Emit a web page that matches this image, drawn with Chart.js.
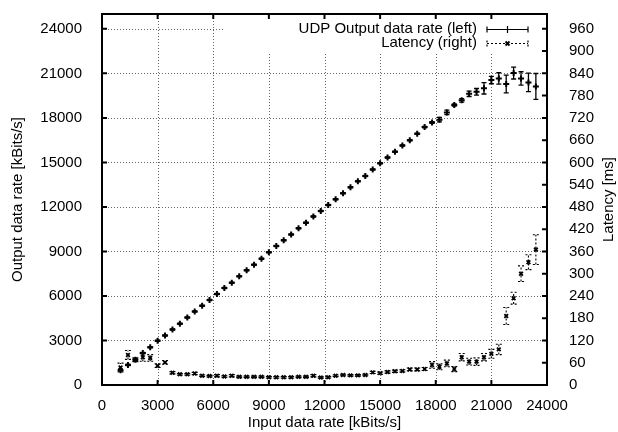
<!DOCTYPE html>
<html>
<head>
<meta charset="utf-8">
<script src="https://cdn.jsdelivr.net/npm/chart.js@4"></script>
<style>
  html, body { margin: 0; padding: 0; background: #fff; }
</style>
</head>
<body>
<canvas id="rateChart" width="618" height="432"></canvas>
<script>
// input data rate [kBits/s] (x)
const inputRates = [1000, 1400, 1800, 2200, 2600, 3000, 3400, 3800, 4200, 4600,
  5000, 5400, 5800, 6200, 6600, 7000, 7400, 7800, 8200, 8600,
  9000, 9400, 9800, 10200, 10600, 11000, 11400, 11800, 12200, 12600,
  13000, 13400, 13800, 14200, 14600, 15000, 15400, 15800, 16200, 16600,
  17000, 17400, 17800, 18200, 18600, 19000, 19400, 19800, 20200, 20600,
  21000, 21400, 21800, 22200, 22600, 23000, 23400];

// UDP output data rate [kBits/s] (left axis)
const outputRates = [1000, 1350, 1700, 2150, 2550, 2980, 3330, 3740, 4120, 4550,
  4950, 5340, 5720, 6130, 6530, 6890, 7320, 7730, 8110, 8510,
  8940, 9370, 9750, 10140, 10560, 10940, 11350, 11730, 12135, 12520,
  12920, 13330, 13730, 14090, 14520, 14950, 15330, 15720, 16140, 16500,
  16930, 17380, 17690, 17880, 18370, 18870, 19180, 19620, 19760, 19990,
  20550, 20660, 20280, 21020, 20660, 20390, 20120];
const outputErr = [60, 50, 50, 50, 40, 40, 40, 40, 40, 40,
  40, 40, 40, 40, 40, 40, 40, 40, 40, 40,
  40, 40, 40, 40, 40, 40, 40, 40, 40, 40,
  40, 40, 40, 40, 40, 40, 40, 40, 40, 40,
  40, 50, 60, 150, 150, 80, 120, 180, 220, 380,
  250, 380, 600, 400, 450, 620, 870];

// latency [ms] (right axis)
const latency = [47, 81, 68, 75, 73, 52, 61, 33, 29, 29,
  31, 25, 24, 25, 23, 25, 22, 22, 22, 22,
  21, 21, 21, 21, 22, 22, 25, 20, 21, 25,
  27, 26, 26, 27, 34, 32, 35, 37, 38, 42,
  42, 43, 54, 49, 58, 43, 75, 63, 63, 75,
  84, 96, 186, 234, 300, 331, 365];
const latencyErr = [12, 12, 5, 11, 9, 5, 5, 3, 2, 2,
  3, 2, 2, 3, 2, 3, 2, 2, 2, 2,
  2, 2, 2, 2, 2, 2, 3, 2, 2, 2,
  2, 2, 2, 2, 3, 3, 3, 3, 3, 4,
  4, 4, 9, 8, 9, 7, 10, 9, 10, 10,
  12, 14, 23, 16, 21, 20, 40];

// tick labels
const xTicks = [0, 3000, 6000, 9000, 12000, 15000, 18000, 21000, 24000];
const leftTicks = [0, 3000, 6000, 9000, 12000, 15000, 18000, 21000, 24000];
const rightTicks = [0, 60, 120, 180, 240, 300, 360, 420, 480, 540, 600,
  660, 720, 780, 840, 900, 960];

const FONT = '"Liberation Sans", Arial, Helvetica, sans-serif';
const tickFont = { family: FONT, size: 15 };

function fixTicks(list) {
  return function (s) { s.ticks = list.map(v => ({ value: v })); };
}

// grid, error bars, frame, key and axis titles drawn gnuplot style
const gnuplotLook = {
  id: "gnuplotLook",
  beforeDatasetsDraw(chart) {
    const { ctx, chartArea: a, scales } = chart;
    ctx.save();
    ctx.strokeStyle = "rgba(0,0,0,0.6)";
    ctx.lineWidth = 1;
    ctx.setLineDash([1, 2]);
    scales.x.ticks.forEach(t => {
      if (t.value <= 0 || t.value >= 24000) return;
      const px = Math.round(scales.x.getPixelForValue(t.value)) + 0.5;
      ctx.beginPath(); ctx.moveTo(px, a.bottom); ctx.lineTo(px, a.top); ctx.stroke();
    });
    scales.y.ticks.forEach(t => {
      if (t.value <= 0) return;
      const py = Math.round(scales.y.getPixelForValue(t.value)) + 0.5;
      ctx.beginPath(); ctx.moveTo(a.left, py); ctx.lineTo(a.right, py); ctx.stroke();
    });
    // key area is blanked
    ctx.setLineDash([]);
    ctx.fillStyle = "#fff";
    ctx.fillRect(225, a.top, a.right - 225, 52 - a.top);

    // error bars, UDP (solid)
    ctx.strokeStyle = "#000";
    ctx.lineWidth = 1.3;
    inputRates.forEach((x, i) => {
      const px = scales.x.getPixelForValue(x);
      const lo = scales.y.getPixelForValue(outputRates[i] - outputErr[i]);
      const hi = scales.y.getPixelForValue(outputRates[i] + outputErr[i]);
      ctx.beginPath();
      ctx.moveTo(px, lo); ctx.lineTo(px, hi);
      ctx.moveTo(px - 2.5, lo); ctx.lineTo(px + 2.5, lo);
      ctx.moveTo(px - 2.5, hi); ctx.lineTo(px + 2.5, hi);
      ctx.stroke();
    });
    // error bars, latency (dashed)
    ctx.lineWidth = 1.1;
    ctx.setLineDash([2, 2]);
    inputRates.forEach((x, i) => {
      const px = scales.x.getPixelForValue(x);
      const lo = scales.y1.getPixelForValue(latency[i] - latencyErr[i]);
      const hi = scales.y1.getPixelForValue(latency[i] + latencyErr[i]);
      ctx.beginPath();
      ctx.moveTo(px, lo); ctx.lineTo(px, hi);
      ctx.moveTo(px - 3, lo); ctx.lineTo(px + 3, lo);
      ctx.moveTo(px - 3, hi); ctx.lineTo(px + 3, hi);
      ctx.stroke();
    });
    ctx.restore();
  },
  afterDraw(chart) {
    const { ctx, chartArea: a, scales } = chart;
    ctx.save();
    ctx.strokeStyle = "#000";
    ctx.lineWidth = 2;
    ctx.strokeRect(a.left, a.top, a.right - a.left, a.bottom - a.top);

    // inward tick marks
    ctx.beginPath();
    scales.x.ticks.forEach(t => {
      const px = scales.x.getPixelForValue(t.value);
      ctx.moveTo(px, a.bottom); ctx.lineTo(px, a.bottom - 5);
      ctx.moveTo(px, a.top); ctx.lineTo(px, a.top + 5);
    });
    scales.y.ticks.forEach(t => {
      const py = scales.y.getPixelForValue(t.value);
      ctx.moveTo(a.left, py); ctx.lineTo(a.left + 5, py);
    });
    scales.y1.ticks.forEach(t => {
      const py = scales.y1.getPixelForValue(t.value);
      ctx.moveTo(a.right, py); ctx.lineTo(a.right - 5, py);
    });
    ctx.stroke();

    // key
    ctx.fillStyle = "#000";
    ctx.font = "15px " + FONT;
    ctx.textAlign = "right";
    ctx.textBaseline = "middle";
    ctx.fillText("UDP Output data rate (left)", 477, 29);
    ctx.fillText("Latency (right)", 477, 43);
    ctx.lineWidth = 1.2;
    ctx.beginPath();
    ctx.moveTo(487, 29.5); ctx.lineTo(528, 29.5);
    ctx.moveTo(487, 26.5); ctx.lineTo(487, 32.5);
    ctx.moveTo(528, 26.5); ctx.lineTo(528, 32.5);
    ctx.moveTo(504, 29.5); ctx.lineTo(511, 29.5);
    ctx.moveTo(507.5, 26); ctx.lineTo(507.5, 33);
    ctx.stroke();
    ctx.setLineDash([2, 2]);
    ctx.beginPath();
    ctx.moveTo(487, 43.5); ctx.lineTo(528, 43.5);
    ctx.moveTo(487, 40.5); ctx.lineTo(487, 46.5);
    ctx.moveTo(528, 40.5); ctx.lineTo(528, 46.5);
    ctx.stroke();
    ctx.setLineDash([]);
    ctx.lineWidth = 1.8;
    ctx.beginPath();
    ctx.moveTo(505.5, 41.5); ctx.lineTo(509.5, 45.5);
    ctx.moveTo(509.5, 41.5); ctx.lineTo(505.5, 45.5);
    ctx.stroke();

    // axis titles
    ctx.textAlign = "center";
    const midY = (a.top + a.bottom) / 2;
    ctx.fillText("Input data rate [kBits/s]", (a.left + a.right) / 2, 423);
    ctx.translate(18, midY);
    ctx.rotate(-Math.PI / 2);
    ctx.fillText("Output data rate [kBits/s]", 0, 0);
    ctx.rotate(Math.PI / 2);
    ctx.translate(-18, -midY);
    ctx.translate(609, midY);
    ctx.rotate(-Math.PI / 2);
    ctx.fillText("Latency [ms]", 0, 0);
    ctx.restore();
  }
};

new Chart(document.getElementById("rateChart"), {
  type: "scatter",
  data: {
    datasets: [{
      label: "UDP Output data rate (left)",
      data: inputRates.map((x, i) => ({ x: x, y: outputRates[i] })),
      yAxisID: "y",
      pointStyle: "cross",
      pointRadius: 3,
      pointBorderWidth: 2,
      borderColor: "#000",
      backgroundColor: "#000",
      showLine: false
    }, {
      label: "Latency (right)",
      data: inputRates.map((x, i) => ({ x: x, y: latency[i] })),
      yAxisID: "y1",
      pointStyle: "crossRot",
      pointRadius: 2.6,
      pointBorderWidth: 1.8,
      borderColor: "#000",
      backgroundColor: "#000",
      showLine: false
    }]
  },
  options: {
    responsive: false,
    devicePixelRatio: 1,
    animation: false,
    layout: { padding: { top: 14, left: 0, right: 0, bottom: 0 } },
    plugins: { legend: { display: false }, tooltip: { enabled: false } },
    scales: {
      x: {
        type: "linear", min: 0, max: 24000,
        grid: { display: false }, border: { display: false },
        afterBuildTicks: fixTicks(xTicks),
        ticks: { autoSkip: false, maxRotation: 0, padding: 4, color: "#000", font: tickFont,
          callback: v => String(v) },
        afterFit(s) { s.height = 47; s.paddingLeft = 0; s.paddingRight = 0; }
      },
      y: {
        type: "linear", position: "left", min: 0, max: 25000,
        grid: { display: false }, border: { display: false },
        afterBuildTicks: fixTicks(leftTicks),
        ticks: { autoSkip: false, padding: 12, color: "#000", font: tickFont,
          callback: v => String(v) },
        afterFit(s) { s.width = 102; s.paddingTop = 0; s.paddingBottom = 0; }
      },
      y1: {
        type: "linear", position: "right", min: 0, max: 1000,
        grid: { display: false }, border: { display: false },
        afterBuildTicks: fixTicks(rightTicks),
        ticks: { autoSkip: false, padding: 14, color: "#000", font: tickFont,
          callback: v => String(v) },
        afterFit(s) { s.width = 71; s.paddingTop = 0; s.paddingBottom = 0; }
      }
    }
  },
  plugins: [gnuplotLook]
});
</script>
</body>
</html>
